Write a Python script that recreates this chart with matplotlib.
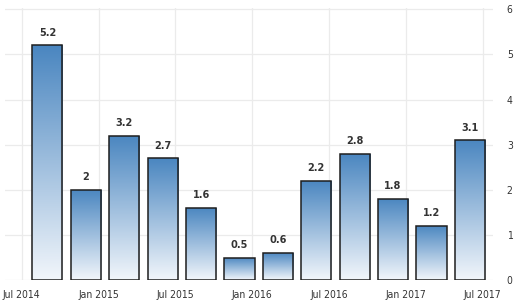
import numpy as np
import matplotlib.pyplot as plt
from matplotlib.colors import LinearSegmentedColormap

# quarterly values, Q3 2014 .. Q2 2017 (x in months after Jul 2014)
months = [2, 5, 8, 11, 14, 17, 20, 23, 26, 29, 32, 35]
values = [5.2, 2, 3.2, 2.7, 1.6, 0.5, 0.6, 2.2, 2.8, 1.8, 1.2, 3.1]
labels = ["5.2", "2", "3.2", "2.7", "1.6", "0.5", "0.6", "2.2", "2.8", "1.8", "1.2", "3.1"]
tick_months = [0, 6, 12, 18, 24, 30, 36]
tick_labels = ["Jul 2014", "Jan 2015", "Jul 2015", "Jan 2016", "Jul 2016", "Jan 2017", "Jul 2017"]
y_ticks = [0, 1, 2, 3, 4, 5, 6]

plt.rcParams['font.family'] = ['DejaVu Sans']
plt.rcParams['font.stretch'] = 'condensed'

fig = plt.figure(figsize=(5.2, 3.08), dpi=100)
ax = fig.add_axes([0.01, 0.09, 0.938, 0.883])

cmap = LinearSegmentedColormap.from_list("bar", ["#f2f6fb", "#4a86c0"])
grad = np.linspace(0, 1, 256).reshape(-1, 1)

width = 2.35
bars = ax.bar(months, values, width=width, color="none", edgecolor="#1e1e1e",
              linewidth=1.1, zorder=3)
for b, v, lab in zip(bars, values, labels):
    x0 = b.get_x()
    im = ax.imshow(grad, cmap=cmap, aspect="auto", origin="lower",
                   extent=[x0, x0 + b.get_width(), 0, v], zorder=2)
    im.set_clip_path(b)
    ax.text(b.get_x() + b.get_width() / 2, v + 0.17, lab, ha="center", va="bottom",
            fontsize=7.8, fontweight="semibold", color="#333333", fontstretch="condensed")

ax.set_xlim(-1.3, 36.8)
ax.set_ylim(0, 6.02)
ax.set_xticks(tick_months)
ax.set_xticklabels(tick_labels)
ax.set_yticks(y_ticks)
ax.yaxis.tick_right()
ax.tick_params(axis="both", length=0, labelsize=7.5, colors="#333333")
ax.tick_params(axis="y", pad=10)
ax.tick_params(axis="x", pad=7)
ax.grid(True, color="#ebebeb", linewidth=0.9, zorder=0)
ax.set_axisbelow(True)
for s in ax.spines.values():
    s.set_visible(False)

fig.savefig("out.png", dpi=100)
